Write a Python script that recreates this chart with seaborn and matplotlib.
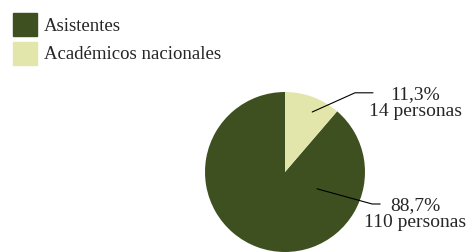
import matplotlib
matplotlib.use("Agg")
import matplotlib.pyplot as plt
import matplotlib.patches as mpatches
import seaborn as sns

categories = ["Asistentes", "Académicos nacionales"]
personas = [110, 14]
porcentajes = ["88,7%", "11,3%"]
colores = ["#3f5020", "#e2e6aa"]

sns.set_theme(style="white")
plt.rcParams["font.family"] = ["Liberation Serif", "DejaVu Serif"]

fig = plt.figure(figsize=(4.67, 2.52), dpi=100)

# pie axes, 160x160 px square
ax = fig.add_axes([205 / 467, 0.0, 160 / 467, 160 / 252])
ax.pie(personas, colors=colores, startangle=90, counterclock=True,
       radius=1.0, wedgeprops=dict(linewidth=0))
ax.set_xlim(-1, 1)
ax.set_ylim(-1, 1)
ax.axis("off")

# labels with leader lines
ax.plot([0.34, 0.875, 1.1], [0.75, 0.99, 0.99], color="black", lw=0.8, clip_on=False)
ax.text(1.63, 0.86, f"{porcentajes[1]}\n{personas[1]} personas", ha="center", va="center",
        fontsize=14, linespacing=1.0)
ax.plot([0.4, 1.09, 1.19], [-0.21, -0.4, -0.4], color="black", lw=0.8, clip_on=False)
ax.text(1.63, -0.53, f"{porcentajes[0]}\n{personas[0]} personas", ha="center", va="center",
        fontsize=14, linespacing=1.0)

handles = [mpatches.Patch(color=c, label=l) for c, l in zip(colores, categories)]
fig.legend(handles=handles, loc="upper left", bbox_to_anchor=(0.0, 1.0), frameon=False,
           fontsize=13.5, handlelength=1.25, handleheight=1.5, handletextpad=0.4,
           labelspacing=0.3, borderaxespad=0.3)

fig.savefig("out.png", dpi=100)
